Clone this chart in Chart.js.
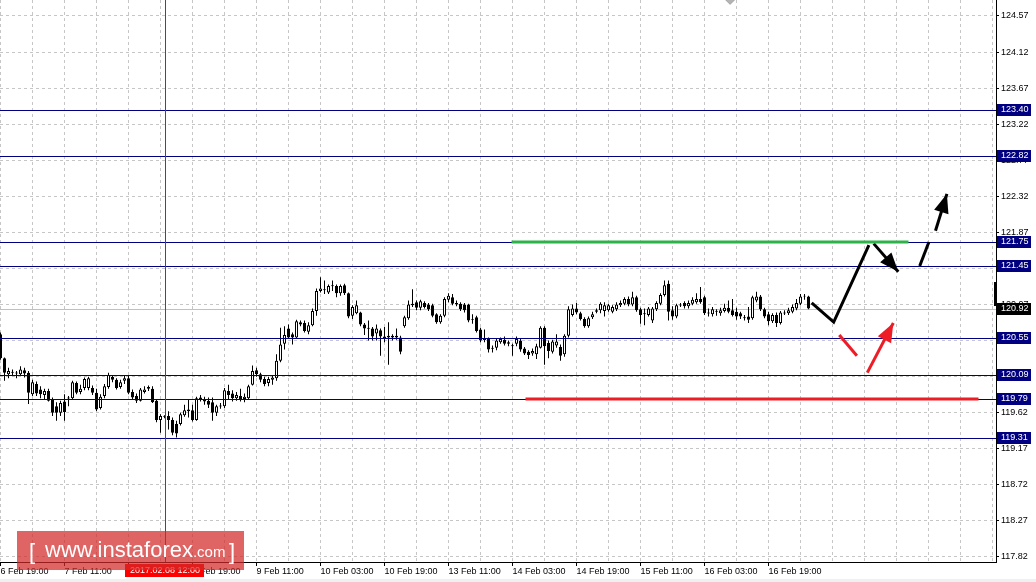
<!DOCTYPE html>
<html>
<head>
<meta charset="utf-8">
<title>USDJPY H1</title>
<script src="https://cdn.jsdelivr.net/npm/chart.js@4.4.0/dist/chart.umd.min.js"></script>
<style>
  html, body { margin: 0; padding: 0; background: #fff; }
  #wrap { width: 1036px; height: 582px; }
</style>
</head>
<body>
<div id="wrap"><canvas id="chart" width="1036" height="582"></canvas></div>
<script>
// Hourly candles, bar index 0 = 6 Feb 19:00
const open = [
  120.60,120.30,120.10,120.12,120.12,120.10,120.15,120.12,119.85,119.98,
  119.91,119.84,119.89,119.79,119.70,119.62,119.76,119.80,119.80,119.99,
  119.88,119.93,119.93,119.93,119.87,119.68,119.83,119.94,120.07,120.03,
  119.94,120.02,120.05,119.88,119.83,119.77,119.88,119.92,119.92,119.77,
  119.53,119.57,119.58,119.53,119.48,119.48,119.59,119.66,119.65,119.53,
  119.79,119.79,119.77,119.75,119.62,119.70,119.70,119.89,119.86,119.80,
  119.83,119.79,119.80,119.97,120.15,120.10,120.04,119.99,120.03,120.05,
  120.27,120.48,120.67,120.60,120.56,120.75,120.74,120.63,120.71,120.89,
  121.14,121.16,121.12,121.20,121.20,121.11,121.21,121.11,120.83,120.86,
  120.87,120.72,120.68,120.67,120.61,120.65,120.57,120.58,120.56,120.58,
  120.56,120.70,120.80,120.98,121.00,120.93,120.99,120.97,120.96,120.85,
  120.75,120.83,121.03,121.06,120.99,120.98,120.97,120.97,120.79,120.81,
  120.66,120.53,120.54,120.43,120.43,120.50,120.53,120.50,120.46,120.48,
  120.52,120.42,120.38,120.36,120.35,120.43,120.68,120.49,120.38,120.46,
  120.44,120.35,120.58,120.84,120.92,120.86,120.79,120.70,120.81,120.90,
  120.90,120.89,120.90,120.88,120.91,120.96,120.98,121.04,120.97,121.06,
  120.91,120.86,120.84,120.77,120.91,120.98,121.09,121.23,120.90,120.82,
  120.97,120.99,120.95,120.98,121.00,121.04,121.06,120.87,120.85,120.88,
  120.86,120.89,120.93,120.90,120.88,120.86,120.81,120.82,120.80,121.02,
  121.07,120.91,120.85,120.76,120.84,120.74,120.87,120.86,120.88,120.92,
  120.98,121.07,121.07
];
const high = [
  120.62,120.31,120.18,120.16,120.14,120.20,120.18,120.14,120.03,120.01,
  119.95,119.92,119.92,119.81,119.75,119.77,119.85,119.83,120.02,120.01,
  119.97,120.06,120.07,119.96,119.92,119.85,119.98,120.12,120.09,120.05,
  120.03,120.08,120.09,119.91,119.86,119.93,119.95,119.96,119.95,119.79,
  119.60,119.59,119.64,119.56,119.52,119.62,119.72,119.79,119.72,119.82,
  119.84,119.82,119.81,119.81,119.72,119.74,119.93,119.97,119.90,119.88,
  119.92,119.86,119.97,120.21,120.18,120.12,120.07,120.07,120.08,120.35,
  120.68,120.70,120.72,120.62,120.78,120.77,120.77,120.75,120.92,121.17,
  121.31,121.27,121.22,121.27,121.22,121.22,121.23,121.12,120.96,121.02,
  120.88,120.74,120.77,120.69,120.72,120.67,120.69,120.75,120.60,120.67,
  120.58,120.83,121.02,121.16,121.02,121.03,121.01,120.99,120.98,120.86,
  120.85,121.06,121.11,121.10,121.02,121.00,120.99,120.98,120.85,120.83,
  120.68,120.66,120.56,120.46,120.55,120.56,120.57,120.52,120.48,120.57,
  120.55,120.44,120.40,120.42,120.48,120.70,120.70,120.52,120.53,120.60,
  120.47,120.60,120.95,120.97,120.99,120.88,120.81,120.82,120.88,120.92,
  121.00,121.00,120.98,120.96,121.00,121.02,121.06,121.07,121.13,121.08,
  120.93,120.92,120.94,120.94,121.01,121.11,121.27,121.27,120.95,120.98,
  120.99,121.01,121.02,121.06,121.11,121.19,121.08,120.92,120.94,120.91,
  120.93,120.98,121.02,121.04,120.93,120.88,120.84,120.94,121.08,121.13,
  121.09,120.93,120.88,120.86,120.87,120.89,120.90,120.93,120.97,121.04,
  121.10,121.10,121.08
];
const low = [
  120.28,120.02,120.05,120.08,120.05,120.08,120.06,119.73,119.83,119.83,
  119.80,119.79,119.76,119.58,119.52,119.58,119.52,119.70,119.79,119.85,
  119.85,119.90,119.90,119.84,119.64,119.66,119.80,119.92,120.00,119.91,
  119.92,119.98,119.85,119.78,119.74,119.76,119.86,119.89,119.74,119.50,
  119.37,119.55,119.41,119.34,119.31,119.46,119.57,119.56,119.51,119.52,
  119.76,119.72,119.68,119.52,119.58,119.67,119.68,119.78,119.76,119.77,
  119.76,119.75,119.78,119.96,120.07,120.00,119.95,119.95,119.97,120.02,
  120.25,120.41,120.54,120.47,120.54,120.70,120.62,120.60,120.70,120.83,
  121.12,121.10,121.10,121.14,121.06,121.08,121.09,120.80,120.79,120.85,
  120.70,120.59,120.52,120.52,120.52,120.33,120.50,120.22,120.52,120.53,
  120.35,120.68,120.78,120.94,120.90,120.90,120.92,120.89,120.81,120.73,
  120.73,120.81,121.00,120.96,120.95,120.89,120.87,120.75,120.73,120.62,
  120.50,120.50,120.37,120.37,120.40,120.48,120.46,120.45,120.33,120.45,
  120.38,120.34,120.29,120.33,120.29,120.42,120.22,120.30,120.36,120.43,
  120.27,120.32,120.56,120.82,120.85,120.77,120.68,120.68,120.79,120.86,
  120.86,120.82,120.88,120.86,120.89,120.94,120.96,120.95,120.95,120.88,
  120.73,120.71,120.82,120.74,120.89,120.96,121.07,120.77,120.78,120.80,
  120.94,120.92,120.92,120.96,120.98,120.98,120.84,120.82,120.82,120.83,
  120.83,120.87,120.86,120.82,120.78,120.79,120.77,120.74,120.78,121.00,
  120.89,120.80,120.71,120.74,120.69,120.72,120.84,120.84,120.86,120.90,
  120.96,121.03,120.91
];
const close = [
  120.30,120.12,120.14,120.13,120.11,120.16,120.11,119.87,120.00,119.86,
  119.85,119.89,119.77,119.62,119.62,119.74,119.63,119.81,120.00,119.87,
  119.92,120.04,120.05,119.87,119.66,119.82,119.95,120.09,120.03,119.93,
  120.00,120.05,119.87,119.81,119.77,119.91,119.91,119.94,119.75,119.53,
  119.58,119.58,119.53,119.37,119.36,119.60,119.65,119.64,119.53,119.80,
  119.81,119.76,119.72,119.62,119.70,119.71,119.90,119.84,119.80,119.84,
  119.79,119.82,119.95,120.14,120.10,120.03,119.98,120.04,120.06,120.27,
  120.47,120.59,120.56,120.56,120.76,120.72,120.64,120.71,120.89,121.14,
  121.17,121.15,121.20,121.21,121.11,121.20,121.11,120.82,120.94,120.96,
  120.72,120.67,120.67,120.57,120.67,120.57,120.55,120.56,120.58,120.56,
  120.38,120.81,120.97,120.96,120.93,121.01,120.94,120.91,120.83,120.75,
  120.83,121.04,121.08,120.98,120.97,120.91,120.90,120.77,120.78,120.64,
  120.52,120.54,120.41,120.42,120.52,120.54,120.48,120.48,120.45,120.54,
  120.41,120.36,120.34,120.39,120.45,120.68,120.45,120.39,120.51,120.51,
  120.33,120.58,120.91,120.92,120.87,120.79,120.70,120.80,120.85,120.88,
  120.98,120.96,120.96,120.94,120.97,120.99,121.04,120.97,121.06,120.90,
  120.84,120.85,120.92,120.92,120.99,121.09,121.21,120.88,120.82,120.96,
  120.96,120.95,120.99,121.03,121.04,121.00,120.86,120.86,120.91,120.89,
  120.90,120.93,120.88,120.84,120.82,120.82,120.80,120.78,121.06,121.07,
  120.91,120.82,120.76,120.84,120.74,120.87,120.86,120.90,120.94,120.99,
  121.07,121.08,120.92
];

// axis labels
const timeLabels = ['6 Feb 19:00', '7 Feb 11:00', '8 Feb 03:00', '8 Feb 19:00', '9 Feb 11:00',
  '10 Feb 03:00', '10 Feb 19:00', '13 Feb 11:00', '14 Feb 03:00', '14 Feb 19:00',
  '15 Feb 11:00', '16 Feb 03:00', '16 Feb 19:00'];
const priceTicks = [124.57, 124.12, 123.67, 123.22, 122.77, 122.32, 121.87, 121.42,
  120.97, 120.52, 120.07, 119.62, 119.17, 118.72, 118.27, 117.82];

// drawn objects
const levels = [123.40, 122.82, 121.75, 121.45, 120.55, 120.09, 119.79, 119.31];
const lastPrice = 120.92;
const markerBar = 41;
const markerLabel = '2017.02.08 12:00';
const resistLine = [[127.75, 121.75], [227, 121.75]];
const supportLine = [[131.25, 119.79], [244.5, 119.79]];
const blackPath = [[202.8, 120.99], [208.3, 120.75], [217.1, 121.71]];
const blackArrow1 = [[218.3, 121.73], [224.45, 121.38]];
const blackArrow2a = [[229.8, 121.45], [232.1, 121.75]];
const blackArrow2b = [[233.75, 121.89], [236.6, 122.35]];
const redPath = [[209.7, 120.59], [214.1, 120.33]];
const redArrow = [[216.7, 120.12], [223.2, 120.74]];
const axisMark = [121.25, 120.95];

const xMin = -0.125, xMax = 248.875;
const yMin = 117.7576, yMax = 124.7696;

const FONT = { family: 'Liberation Sans, Arial, sans-serif', size: 9 };

const wicks = high.map((h, i) => ({ x: i, y: [low[i], h] }));
const bodies = open.map((o, i) => {
  let lo = Math.min(o, close[i]);
  let hi = Math.max(o, close[i]);
  if (hi - lo < 0.012) {
    const m = (hi + lo) / 2;
    lo = m - 0.006;
    hi = m + 0.006;
  }
  return { x: i, y: [lo, hi] };
});

function seg(points, color, width, extra) {
  return Object.assign({
    type: 'line',
    data: points.map(([x, y]) => ({ x, y })),
    borderColor: color,
    borderWidth: width,
    pointRadius: 0,
    fill: false,
    tension: 0,
    order: 0
  }, extra || {});
}

const datasets = [
  {
    type: 'bar',
    data: bodies,
    backgroundColor: open.map((o, i) => close[i] > o ? '#ffffff' : '#000000'),
    borderColor: '#000000',
    borderWidth: 1,
    borderSkipped: false,
    barThickness: 3,
    grouped: false,
    inflateAmount: 0,
    order: 2
  },
  {
    type: 'bar',
    data: wicks,
    backgroundColor: '#000000',
    borderWidth: 0,
    barThickness: 1,
    grouped: false,
    inflateAmount: 0,
    order: 3
  },
  seg(resistLine, '#2eb34b', 3),
  seg(supportLine, '#ee1c25', 3),
  seg(blackPath, '#000000', 3),
  seg(blackArrow1, '#000000', 3, { arrowHead: true }),
  seg(blackArrow2a, '#000000', 3),
  seg(blackArrow2b, '#000000', 3, { arrowHead: true }),
  seg(redPath, '#ee1c25', 3),
  seg(redArrow, '#ee1c25', 3, { arrowHead: true }),
  {
    type: 'line',
    data: [{ x: 182.4, y: 124.79 }],
    showLine: false,
    pointStyle: 'rectRot',
    pointRadius: 6,
    pointBackgroundColor: '#b4b4b4',
    pointBorderColor: '#a0a0a0',
    pointBorderWidth: 1,
    order: 0
  }
];

// crisp 1px horizontal line at a price
function hline(chart, v, color) {
  const area = chart.chartArea;
  const y = Math.round(chart.scales.y.getPixelForValue(v));
  chart.ctx.fillStyle = color;
  chart.ctx.fillRect(area.left, y, area.right - area.left, 1);
}

const overlay = {
  id: 'overlay',
  beforeDatasetsDraw(chart) {
    chart.ctx.save();
    hline(chart, lastPrice, '#c0c0c0');
    chart.ctx.restore();
  },
  afterDatasetDraw(chart, args) {
    // levels and the time marker go over the candles, under the drawn arrows
    if (args.index !== 0) return;
    const ctx = chart.ctx, area = chart.chartArea;
    ctx.save();
    levels.forEach(v => hline(chart, v, '#000080'));
    const x = Math.round(chart.scales.x.getPixelForValue(markerBar));
    ctx.fillStyle = '#ff0000';
    ctx.fillRect(x, area.top, 1, area.bottom - area.top);
    ctx.restore();
  },
  afterDatasetsDraw(chart) {
    const ctx = chart.ctx;
    chart.data.datasets.forEach((ds, i) => {
      if (!ds.arrowHead) return;
      const pts = chart.getDatasetMeta(i).data;
      const a = pts[pts.length - 2], b = pts[pts.length - 1];
      const ang = Math.atan2(b.y - a.y, b.x - a.x);
      const len = 19, half = 7.5;
      const bx = b.x - len * Math.cos(ang), by = b.y - len * Math.sin(ang);
      ctx.save();
      ctx.fillStyle = ds.borderColor;
      ctx.beginPath();
      ctx.moveTo(b.x, b.y);
      ctx.lineTo(bx + half * Math.sin(ang), by - half * Math.cos(ang));
      ctx.lineTo(bx - half * Math.sin(ang), by + half * Math.cos(ang));
      ctx.closePath();
      ctx.fill();
      ctx.restore();
    });
  },
  afterDraw(chart) {
    const ctx = chart.ctx;
    const area = chart.chartArea;
    const xs = chart.scales.x, ys = chart.scales.y;
    ctx.save();

    // frame
    ctx.fillStyle = '#000';
    ctx.fillRect(area.right, 0, 1, area.bottom + 1);
    ctx.fillRect(0, area.bottom, area.right + 1, 1);

    const t = ys.getPixelForValue(axisMark[0]), b = ys.getPixelForValue(axisMark[1]);
    ctx.fillRect(area.right - 2, Math.round(t), 3, Math.round(b - t));

    ctx.fillStyle = '#f0f0f0';
    ctx.fillRect(0, chart.height - 3, chart.width, 3);

    // price boxes on the right axis
    ctx.font = `${FONT.size}px ${FONT.family}`;
    ctx.textBaseline = 'middle';
    ctx.textAlign = 'left';
    const box = (v, fill) => {
      const y = Math.round(ys.getPixelForValue(v));
      ctx.fillStyle = fill;
      ctx.fillRect(area.right + 1, y - 6, 34, 12);
      ctx.fillStyle = '#fff';
      ctx.fillText(v.toFixed(2), area.right + 5, y);
    };
    levels.forEach(v => box(v, '#000080'));
    box(lastPrice, '#000000');

    // time marker label
    const mx = Math.round(xs.getPixelForValue(markerBar));
    ctx.fillStyle = '#ff0000';
    ctx.fillRect(mx - 40, area.bottom + 2, 79, 13);
    ctx.fillStyle = '#fff';
    ctx.textAlign = 'center';
    ctx.fillText(markerLabel, mx, area.bottom + 9);

    // watermark
    ctx.fillStyle = 'rgba(210, 40, 40, 0.72)';
    ctx.fillRect(17, 531, 227, 39);
    ctx.fillStyle = '#fff';
    ctx.textAlign = 'left';
    ctx.textBaseline = 'alphabetic';
    ctx.font = '22px Liberation Sans, Arial, sans-serif';
    ctx.fillText('[', 29, 559);
    ctx.fillText('www.instaforex', 45, 557);
    const w = ctx.measureText('www.instaforex').width;
    ctx.font = '15px Liberation Sans, Arial, sans-serif';
    ctx.fillText('.com', 45 + w, 557);
    ctx.font = '22px Liberation Sans, Arial, sans-serif';
    ctx.fillText(']', 229, 559);
    ctx.restore();
  }
};

new Chart(document.getElementById('chart'), {
  type: 'bar',
  data: { datasets },
  options: {
    responsive: false,
    devicePixelRatio: 1,
    animation: false,
    events: [],
    layout: { padding: 0, autoPadding: false },
    plugins: { legend: { display: false }, tooltip: { enabled: false } },
    scales: {
      x: {
        type: 'linear',
        position: 'bottom',
        min: xMin,
        max: xMax,
        offset: false,
        afterBuildTicks: s => {
          const t = [];
          for (let v = 0; v <= 248; v += 8) t.push({ value: v });
          s.ticks = t;
        },
        afterFit: s => { s.height = 20; s.paddingLeft = 0; s.paddingRight = 0; },
        ticks: {
          autoSkip: false,
          maxRotation: 0,
          align: 'start',
          padding: 0,
          font: FONT,
          color: '#000',
          callback: v => (v % 16 === 0 && timeLabels[v / 16]) ? timeLabels[v / 16] : ''
        },
        grid: {
          offset: false,
          color: '#c6c6c6',
          lineWidth: 1,
          tickLength: 4,
          tickColor: c => (c.tick && c.tick.label) ? '#000' : 'rgba(0,0,0,0)'
        },
        border: { display: false, dash: [3, 3] }
      },
      y: {
        type: 'linear',
        position: 'right',
        min: yMin,
        max: yMax,
        afterBuildTicks: s => { s.ticks = priceTicks.map(v => ({ value: v })); },
        afterFit: s => { s.width = 40; s.paddingTop = 0; s.paddingBottom = 0; },
        ticks: {
          autoSkip: false,
          padding: 2,
          font: FONT,
          color: '#000',
          callback: v => v.toFixed(2)
        },
        grid: {
          color: '#c6c6c6',
          lineWidth: 1,
          tickLength: 3,
          tickColor: '#000'
        },
        border: { display: false, dash: [3, 3] }
      }
    }
  },
  plugins: [overlay]
});
</script>
</body>
</html>
